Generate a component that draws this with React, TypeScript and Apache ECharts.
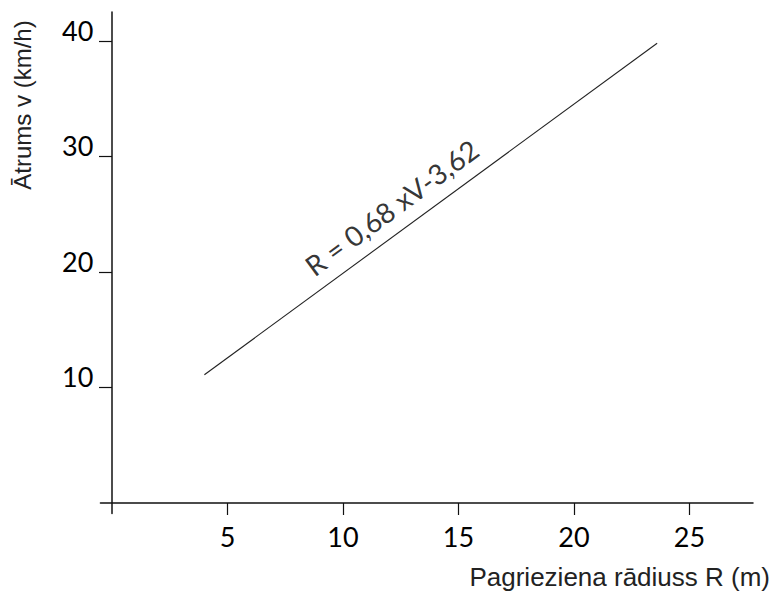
import React, { useEffect, useRef } from "react";
import * as echarts from "echarts";

const xTicks = [5, 10, 15, 20, 25];
const yTicks = [10, 20, 30, 40];
const lineR = [4.0, 23.6];
const lineV = [11.1, 39.8];
const equationLabel = "R = 0,68 xV-3,62";
const equationAt = [12.1, 25.6];
const xName = "Pagrieziena rādiuss R (m)";
const yName = "Ātrums v (km/h)";

export default function App() {
  const ref = useRef<HTMLDivElement>(null);
  useEffect(() => {
    if (!ref.current) return;
    const chart = echarts.init(ref.current, null, { renderer: "svg" });
    const axisColor = "#111";
    const tickFont = { fontSize: 27, fontFamily: "Lato", color: "#000" };
    chart.setOption({
      animation: false,
      backgroundColor: "#fff",
      grid: { left: 100.45, right: 23, top: 12, bottom: 83.6, containLabel: false },
      xAxis: {
        type: "value",
        min: -0.5,
        max: 27.75,
        axisLine: { onZero: true, lineStyle: { color: axisColor, width: 1.5 } },
        axisTick: { show: true, customValues: xTicks, length: 12, lineStyle: { color: axisColor, width: 1.2 } },
        axisLabel: { show: true, customValues: xTicks, margin: 9.5, lineHeight: 27, ...tickFont },
        splitLine: { show: false },
      },
      yAxis: {
        type: "value",
        min: -0.9,
        max: 42.5,
        axisLine: { onZero: true, lineStyle: { color: axisColor, width: 1.5 } },
        axisTick: { show: true, customValues: yTicks, length: 13, lineStyle: { color: axisColor, width: 1.2 } },
        axisLabel: { show: true, customValues: yTicks, margin: 7, verticalAlign: "bottom", lineHeight: 21, ...tickFont },
        splitLine: { show: false },
      },
      graphic: [
        {
          type: "text",
          right: 6,
          top: 564,
          style: { text: xName, font: '26px "Liberation Sans", Arial, sans-serif', fill: "#222" },
        },
        {
          type: "text",
          x: 22,
          y: 105,
          rotation: Math.PI / 2,
          style: {
            text: yName,
            font: '24px "Liberation Sans", Arial, sans-serif',
            fill: "#222",
            align: "center",
            verticalAlign: "middle",
          },
        },
      ],
      series: [
        {
          type: "line",
          data: lineR.map((r, i) => [r, lineV[i]]),
          symbol: "none",
          lineStyle: { color: "#222", width: 1.1 },
          silent: true,
        },
        {
          type: "scatter",
          data: [equationAt],
          symbolSize: 0,
          silent: true,
          label: {
            show: true,
            position: "inside",
            rotate: 36.5,
            formatter: equationLabel,
            fontSize: 28,
            fontFamily: "Lato",
            color: "#000",
          },
        },
      ],
    });
    return () => chart.dispose();
  }, []);
  return <div ref={ref} style={{ position: "absolute", left: 0, top: 0, width: 776, height: 597 }} />;
}
